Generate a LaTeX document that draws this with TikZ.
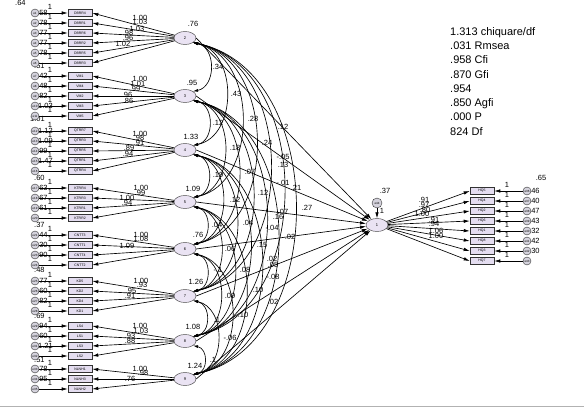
\documentclass[tikz,border=0pt]{standalone}
\usepackage{fontspec}
\setmainfont{Liberation Sans}
\usetikzlibrary{shapes.geometric,arrows.meta}
\definecolor{boxfill}{HTML}{E4DDF0}
\definecolor{latfill}{HTML}{EAE3F3}
\definecolor{errfill}{HTML}{D4D2DC}
\begin{document}
\begin{tikzpicture}[x=1pt,y=-1pt]
\tikzset{
 obs/.style={draw=black!80, fill=boxfill, minimum width=24pt, minimum height=7pt, inner sep=0pt, line width=0.6pt, font=\fontsize{3.5}{4}\selectfont},
 err/.style={circle, draw=black!80, fill=errfill, minimum size=8pt, inner sep=0pt, font=\fontsize{3}{3}\selectfont},
 lat/.style={ellipse, draw=black!80, fill=latfill, minimum width=22pt, minimum height=13pt, inner sep=0pt, font=\fontsize{4}{4}\selectfont},
 val/.style={font=\fontsize{7.5}{8}\selectfont, inner sep=0pt},
 arr/.style={-{Latex[length=6pt,width=3.5pt]}, line width=0.65pt},
 cov/.style={{Latex[length=5pt,width=3pt]}-{Latex[length=5pt,width=3pt]}, line width=0.65pt},
}
\useasboundingbox (0,0) rectangle (584,414);
\fill[white] (0,0) rectangle (584,414);
\draw[black!30] (0,406) -- (584,406);

% latent variables
\foreach \n/\y in {2/38,3/96,4/150,5/202,6/249,7/296,8/341,9/379}{
  \node[lat] (L\n) at (185,\y) {\n};
}
\node[lat] (L1) at (377,225) {1};

% error variances (drawn first, circles overlap them)
\foreach \x/\y/\t in {15/3/.64, 37/13/.58, 37/23/.78, 37/33/.77, 37/43/.77, 37/53/.78, 34/66/.51,
  37/76/.42, 37/86/.48, 37/96/.82, 38/106/1.03, 30/119/1.01,
  38/131/1.12, 38/141/1.09, 37/151/.99, 38/161/1.47, 34/178/.60,
  37/188/.63, 37/198/.67, 37/208/.61, 34/225/.37,
  37/235/.44, 37/245/.30, 37/255/.90, 34/270/.48,
  37/281/.77, 37/291/.60, 37/301/.82, 34/316/.69,
  37/326/.94, 37/336/.60, 38/346/1.21, 34/360/.51,
  37/369/.78, 37/379/.95}{
  \node[val, anchor=west] at (\x,\y) {\t};
}

% left measurement model
\foreach \n/\y/\l/\e in {DBRR4/13/2/1, DBRR1/23/2/2, DBRR6/33/2/3, DBRR2/43/2/4, DBRR5/53/2/5, DBRR3/63/2/6,
  VM1/76/3/7, VM4/86/3/8, VM2/96/3/9, VM3/106/3/10, VM5/116/3/11,
  QTRR7/131/4/12, QTRR3/141/4/13, QTRR5/151/4/14, QTRR1/161/4/15, QTRR4/171/4/16,
  KTRR4/188/5/17, KTRR3/198/5/18, KTRR1/208/5/19, KTRR2/218/5/20,
  CNTT3/235/6/21, CNTT1/245/6/22, CNTT4/255/6/23, CNTT2/265/6/24,
  KD5/281/7/25, KD2/291/7/26, KD4/301/7/27, KD1/311/7/28,
  LS4/326/8/29, LS1/336/8/30, LS3/346/8/31, LS2/356/8/32,
  NLNH1/369/9/33, NLNH3/379/9/34, NLNH2/389/9/35}{
  \node[obs] (\n) at (80,\y) {\n};
  \node[err] (e\e) at (35,\y) {e\e};
  \draw[arr] (e\e) -- (\n);
  \node[val] at (50,\y-6) {1};
  \draw[arr] (L\l) -- (\n.east);
}

% loading labels (left)
\foreach \x/\y/\t in {140/18/1.00, 140/22/1.03, 137/29/1.03, 128/33/.98, 128/38/.96, 123/44/1.02,
  140/79/1.00, 138/84/1.01, 135/89/.99, 127/95/.96, 128/101/.86,
  140/134/1.00, 139/138/.98, 139/143/.91, 129/148/.89, 128/154/.94,
  141/188/1.00, 140/193/.99, 127/198/1.00, 127/203/.94,
  141/235/1.00, 141/239/1.08, 127/246/1.09,
  141/281/1.00, 142/285/.93, 131/291/.95, 130/296/.91,
  140/326/1.00, 141/331/1.03, 130/336/.93, 130/341/.88,
  140/369/1.00, 143/373/.98, 130/379/.76}{
  \node[val] at (\x,\y) {\t};
}

% latent variances
\foreach \x/\y/\t in {193/24/.76, 192/83/.95, 191/137/1.33, 193/189/1.09, 198/235/.76, 196/282/1.26, 193/327/1.08, 195/366/1.24}{
  \node[val] at (\x,\y) {\t};
}

% covariances
\foreach \a/\ya in {2/38,3/96,4/150,5/202,6/249,7/296,8/341}{
  \foreach \b/\yb in {3/96,4/150,5/202,6/249,7/296,8/341,9/379}{
    \ifnum\b>\a
      \pgfmathsetmacro\bb{0.4*(\yb-\ya)}
      \pgfmathsetmacro\vv{0.08*(\yb-\ya)}
      \draw[cov] (L\a.-30) .. controls +(\bb,\vv) and +(\bb,-\vv) .. (L\b.30);
    \fi
  }
}

% structural paths
\foreach \a in {2,...,9}{
  \draw[arr] (L\a.east) -- (L1);
}

% covariance / path labels
\foreach \x/\y/\t in {218/67/.34, 236/94/.43, 253/119/.28, 283/127/.12, 218/123/.12, 267/143/.24,
  235/148/.18, 283/157/-.05, 283/165/.13, 250/172/.07, 218/175/.19, 283/183/-.01, 296/188/.21,
  263/193/.12, 235/200/.12, 307/208/.27, 248/223/.04, 283/212/.07, 278/217/.16, 272/228/-.04,
  290/237/.02, 217/225/.04, 262/245/.15, 230/249/.06, 272/259/.02, 273/265/.05, 273/277/-.08,
  245/270/.08, 218/270/-.1, 258/290/.10, 230/296/.09, 273/302/.02, 243/315/.10, 217/320/.1,
  230/338/-.06, 213/360/.1}{
  \node[val] at (\x,\y) {\t};
}

% endogenous disturbance
\node[val] at (385,191) {.37};
\node[err, minimum size=10pt] (e44) at (377,203) {e44};
\draw[arr] (e44) -- (L1);
\node[val] at (382,211) {1};

% right measurement model
\node[val] at (541,178) {.65};
\foreach \y/\t in {191/.46, 201/.40, 211/.47, 221/.43, 231/.32, 241/.42, 251/.30}{
  \node[val, anchor=west] at (529,\y) {\t};
}
\foreach \n/\y/\e in {HQ5/191/36, HQ4/201/37, HQ2/211/38, HQ6/221/39, HQ1/231/40, HQ8/241/41, HQ3/251/42, HQ7/261/43}{
  \node[obs] (\n) at (482,\y) {\n};
  \node[err] (e\e) at (527,\y) {e\e};
  \draw[arr] (e\e) -- (\n.east);
  \draw[arr] (L1) -- (\n.west);
  \node[val] at (507,\y-6) {1};
}
\foreach \x/\y/\t in {424/200/.91, 424/205/.97, 425/210/.80, 422/214/1.00, 434/220/.91, 434/224/.94, 436/231/1.06, 436/236/1.00}{
  \node[val] at (\x,\y) {\t};
}

% fit indices
\node[anchor=north west, align=left, inner sep=0pt, font=\fontsize{11}{14.3}\selectfont] (fit) at (450,27)
 {1.313 chiquare/df\\.031 Rmsea\\.958 Cfi\\.870 Gfi\\.954\\.850 Agfi\\.000 P\\824 Df};
\end{tikzpicture}
\end{document}
